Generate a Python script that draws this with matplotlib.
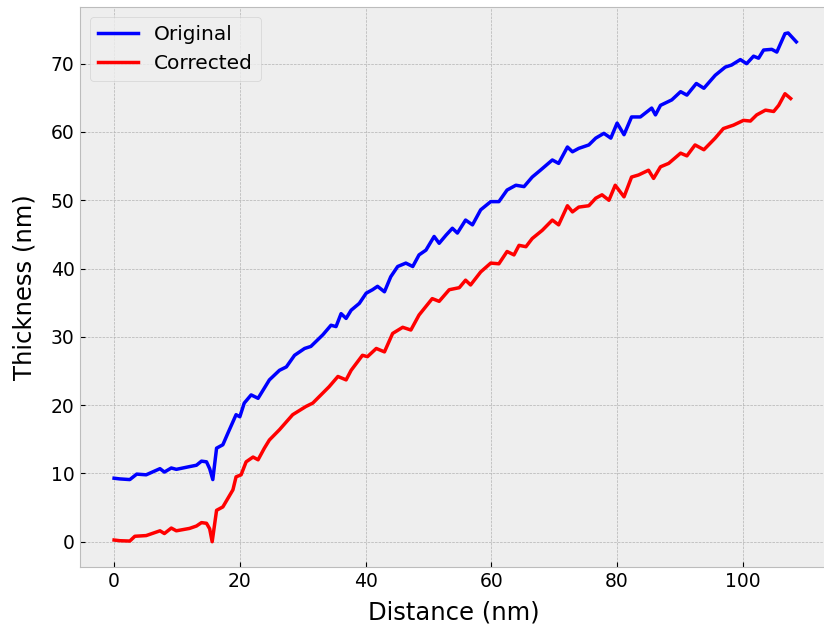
import matplotlib
matplotlib.use("Agg")
import matplotlib.pyplot as plt

x_original = [0, 0.9, 2.5, 3.6, 5.1, 7.3, 8.0, 9.1, 9.9, 12.0, 13.1, 13.9, 14.7, 15.2, 15.7,
              16.3, 17.3, 18.1, 19.4, 20.0, 20.7, 21.8, 22.9, 23.9, 24.7, 26.3, 27.4, 28.7,
              30.3, 31.3, 33.2, 34.5, 35.3, 36.1, 36.9, 37.7, 39.0, 40.1, 41.1, 41.9, 43.0,
              44.0, 45.1, 46.4, 47.5, 48.5, 49.6, 50.9, 51.7, 52.8, 53.8, 54.6, 55.9, 57.0,
              58.3, 59.9, 61.2, 62.5, 63.9, 65.2, 66.5, 67.8, 69.7, 70.7, 72.1, 72.9, 73.9,
              75.5, 76.6, 77.9, 79.0, 80.0, 81.1, 82.3, 83.7, 85.5, 86.1, 86.9, 88.7, 90.1,
              91.1, 92.6, 93.8, 95.6, 97.2, 98.2, 99.6, 100.6, 101.7, 102.5, 103.3, 104.6,
              105.4, 106.7, 107.2, 108.5]
y_original = [9.3, 9.2, 9.1, 9.9, 9.8, 10.7, 10.2, 10.8, 10.6, 11.0, 11.2, 11.8, 11.7, 10.7, 9.1,
              13.7, 14.2, 15.9, 18.6, 18.3, 20.3, 21.5, 21.0, 22.5, 23.7, 25.1, 25.6, 27.3,
              28.3, 28.6, 30.3, 31.7, 31.5, 33.4, 32.7, 33.9, 34.9, 36.4, 36.9, 37.4, 36.6,
              38.8, 40.3, 40.8, 40.3, 42.0, 42.7, 44.7, 43.7, 44.9, 45.9, 45.2, 47.1, 46.4,
              48.6, 49.8, 49.8, 51.5, 52.2, 52.0, 53.4, 54.4, 55.9, 55.4, 57.8, 57.1, 57.6,
              58.1, 59.1, 59.8, 59.1, 61.3, 59.6, 62.2, 62.2, 63.5, 62.5, 63.9, 64.7, 65.9,
              65.4, 67.1, 66.4, 68.3, 69.5, 69.8, 70.6, 70.0, 71.1, 70.8, 72.0, 72.1,
              71.7, 74.4, 74.5, 73.2]

x_corrected = [0, 0.9, 2.5, 3.3, 5.1, 7.3, 8.0, 9.1, 9.9, 12.0, 13.1, 13.9, 14.7, 15.2, 15.6,
               16.3, 17.3, 18.9, 19.4, 20.2, 21.0, 22.1, 22.9, 23.9, 24.7, 26.3, 28.4, 30.5,
               31.6, 34.2, 35.6, 36.9, 37.7, 39.5, 40.3, 41.7, 43.0, 44.3, 45.9, 47.2, 48.5,
               50.6, 51.7, 53.3, 54.9, 55.9, 56.7, 58.3, 59.9, 61.2, 62.5, 63.6, 64.4, 65.5,
               66.5, 68.1, 69.7, 70.7, 72.1, 72.9, 73.9, 75.5, 76.6, 77.6, 78.7, 79.7, 81.1,
               82.3, 83.4, 85.0, 85.8, 86.9, 88.2, 90.1, 91.1, 92.4, 93.8, 95.6, 96.9, 98.5,
               100.1, 101.2, 102.2, 103.6, 104.9, 105.7, 106.7, 107.6]
y_corrected = [0.25, 0.15, 0.1, 0.8, 0.9, 1.6, 1.2, 2.0, 1.6, 1.95, 2.3, 2.8, 2.7, 1.9, 0.0,
               4.6, 5.1, 7.6, 9.5, 9.8, 11.7, 12.4, 12.0, 13.7, 14.9, 16.4, 18.6, 19.8,
               20.3, 22.7, 24.2, 23.7, 25.1, 27.3, 27.1, 28.3, 27.8, 30.5, 31.4, 31.0, 33.2,
               35.6, 35.2, 36.9, 37.2, 38.3, 37.6, 39.5, 40.8, 40.7, 42.5, 42.0, 43.4, 43.2,
               44.4, 45.6, 47.1, 46.4, 49.2, 48.3, 49.0, 49.2, 50.3, 50.8, 50.0, 52.2, 50.5,
               53.4, 53.7, 54.4, 53.2, 54.9, 55.4, 56.9, 56.5, 58.1, 57.4, 59.1, 60.5, 61.0,
               61.7, 61.6, 62.5, 63.2, 63.0, 63.9, 65.6, 64.9]

series_labels = ["Original", "Corrected"]
x_label = "Distance (nm)"
y_label = "Thickness (nm)"
x_ticks = [0, 20, 40, 60, 80, 100]
y_ticks = [0, 10, 20, 30, 40, 50, 60, 70]

plt.style.use("bmh")
fig = plt.figure(figsize=(8.24, 6.30), dpi=100)
# the original figure is cropped on the right: the axes run past the image edge
ax = fig.add_axes([79.5 / 824, 1 - 567 / 630, (829 - 79.5) / 824, (567 - 7) / 630])

ax.plot(x_original, y_original, color="blue", lw=2.5, label=series_labels[0])
ax.plot(x_corrected, y_corrected, color="red", lw=2.5, label=series_labels[1])

ax.set_xlim(-5.5, 113.7)
ax.set_ylim(-3.7, 78.3)
ax.set_xlabel(x_label, fontsize=17.5, labelpad=7)
ax.set_ylabel(y_label, fontsize=17.5, labelpad=10)
ax.tick_params(labelsize=13.5)
ax.set_xticks(x_ticks)
ax.set_yticks(y_ticks)
ax.legend(loc="upper left", fontsize=14.5)

fig.savefig("out.png", dpi=100)
